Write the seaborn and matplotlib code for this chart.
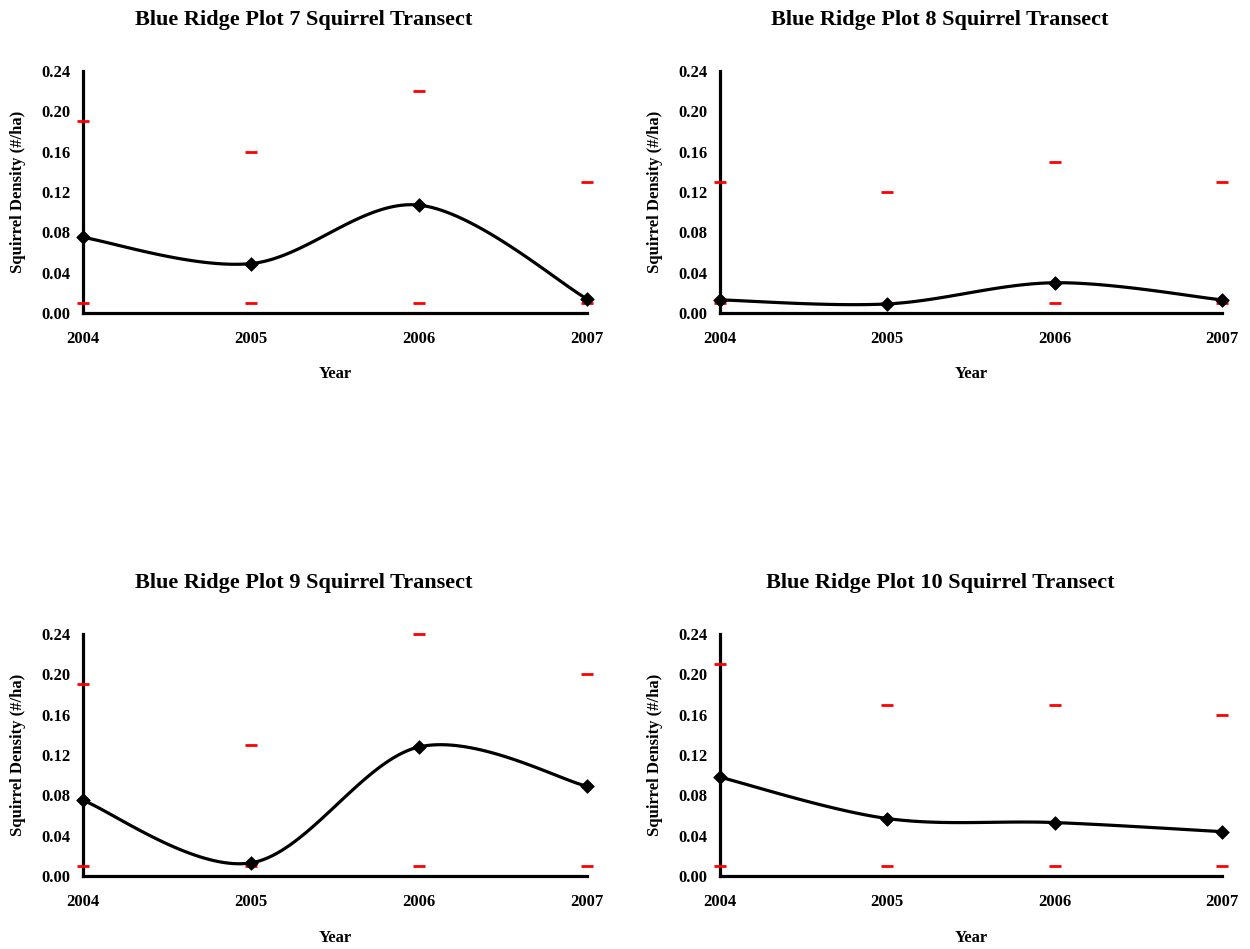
import numpy as np
import pandas as pd
import matplotlib
matplotlib.use("Agg")
import matplotlib.pyplot as plt
import seaborn as sns

# Survey years and per-plot density estimates with confidence bounds
years = [2004, 2005, 2006, 2007]

titles = [
    "Blue Ridge Plot 7 Squirrel Transect",
    "Blue Ridge Plot 8 Squirrel Transect",
    "Blue Ridge Plot 9 Squirrel Transect",
    "Blue Ridge Plot 10 Squirrel Transect",
]

plot7_density = [0.075, 0.049, 0.107, 0.014]
plot7_upper = [0.19, 0.16, 0.22, 0.13]
plot7_lower = [0.01, 0.01, 0.01, 0.01]

plot8_density = [0.013, 0.009, 0.030, 0.013]
plot8_upper = [0.13, 0.12, 0.15, 0.13]
plot8_lower = [0.01, 0.01, 0.01, 0.01]

plot9_density = [0.075, 0.013, 0.128, 0.089]
plot9_upper = [0.19, 0.13, 0.24, 0.20]
plot9_lower = [0.01, 0.01, 0.01, 0.01]

plot10_density = [0.098, 0.057, 0.053, 0.044]
plot10_upper = [0.21, 0.17, 0.17, 0.16]
plot10_lower = [0.01, 0.01, 0.01, 0.01]

y_ticks = [0.00, 0.04, 0.08, 0.12, 0.16, 0.20, 0.24]

panels = [
    (plot7_density, plot7_upper, plot7_lower),
    (plot8_density, plot8_upper, plot8_lower),
    (plot9_density, plot9_upper, plot9_lower),
    (plot10_density, plot10_upper, plot10_lower),
]

sns.set_theme(style="white")
plt.rcParams["font.family"] = ["Liberation Serif", "DejaVu Serif"]
plt.rcParams["font.weight"] = "bold"
plt.rcParams["text.color"] = "black"
plt.rcParams["axes.labelcolor"] = "black"
plt.rcParams["axes.titlecolor"] = "black"


def smooth_curve(xs, ys, steps=40):
    """Bezier-smoothed path through the points (spreadsheet-style smoothing)."""
    p = np.column_stack([xs, ys]).astype(float)
    ext = np.vstack([p[0], p, p[-1]])
    out = []
    t = np.linspace(0, 1, steps)[:, None]
    for i in range(len(p) - 1):
        p0, p1, p2, p3 = ext[i], ext[i + 1], ext[i + 2], ext[i + 3]
        c1 = p1 + (p2 - p0) / 6.0
        c2 = p2 - (p3 - p1) / 6.0
        seg = ((1 - t) ** 3) * p1 + 3 * ((1 - t) ** 2) * t * c1 \
            + 3 * (1 - t) * t ** 2 * c2 + t ** 3 * p2
        out.append(seg if i == 0 else seg[1:])
    path = np.vstack(out)
    return path[:, 0], path[:, 1]


W, H = 1250, 949
fig = plt.figure(figsize=(W / 100, H / 100), dpi=100)

# axes boxes in pixels: left, right, top, bottom
boxes = [
    (83, 587, 71, 313),
    (720, 1222, 71, 313),
    (83, 587, 634, 876),
    (720, 1222, 634, 876),
]

for (dens, up, lo), title, (l, r, t, b) in zip(panels, titles, boxes):
    ax = fig.add_axes([l / W, 1 - b / H, (r - l) / W, (b - t) / H])
    sx, sy = smooth_curve(years, dens)
    curve = pd.DataFrame({"Year": sx, "Density": sy})
    sns.lineplot(data=curve, x="Year", y="Density", sort=False, estimator=None,
                 color="black", linewidth=2.3, ax=ax, clip_on=False)
    pts = pd.DataFrame({"Year": years, "Density": dens, "Upper": up, "Lower": lo})
    sns.scatterplot(data=pts, x="Year", y="Upper", marker="_", s=80,
                    color="#ff0000", linewidth=2.0, ax=ax, clip_on=False, zorder=4)
    sns.scatterplot(data=pts, x="Year", y="Lower", marker="_", s=80,
                    color="#ff0000", linewidth=2.0, ax=ax, clip_on=False, zorder=4)
    sns.scatterplot(data=pts, x="Year", y="Density", marker="D", s=48,
                    color="black", edgecolor="black", ax=ax, clip_on=False, zorder=5)

    ax.set_xlim(years[0], years[-1])
    ax.set_ylim(y_ticks[0], y_ticks[-1])
    ax.set_xticks(years)
    ax.set_xticklabels([str(y) for y in years])
    ax.set_yticks(y_ticks)
    ax.set_yticklabels([f"{v:.2f}" for v in y_ticks])

    sns.despine(ax=ax, top=True, right=True)
    for side in ("left", "bottom"):
        ax.spines[side].set_linewidth(2.3)
        ax.spines[side].set_color("black")
        ax.spines[side].set_capstyle("projecting")
    ax.tick_params(axis="both", direction="out", length=4, width=2,
                   color="black", labelsize=12, labelcolor="black")
    ax.tick_params(axis="x", pad=9)
    ax.tick_params(axis="y", pad=5)
    for lab in ax.get_xticklabels() + ax.get_yticklabels():
        lab.set_fontweight("bold")

    ax.set_xlabel("Year", fontsize=12, fontweight="bold", labelpad=14,
                  color="black")
    ax.set_ylabel("Squirrel Density (#/ha)", fontsize=12, fontweight="bold",
                  va="center", color="black")
    ax.yaxis.set_label_coords(-65 / (r - l), 0.5)
    ax.set_title(title, fontsize=16, fontweight="bold", pad=33, x=0.4385,
                 color="black")
    ax.grid(False)

fig.savefig("out.png", dpi=100)
